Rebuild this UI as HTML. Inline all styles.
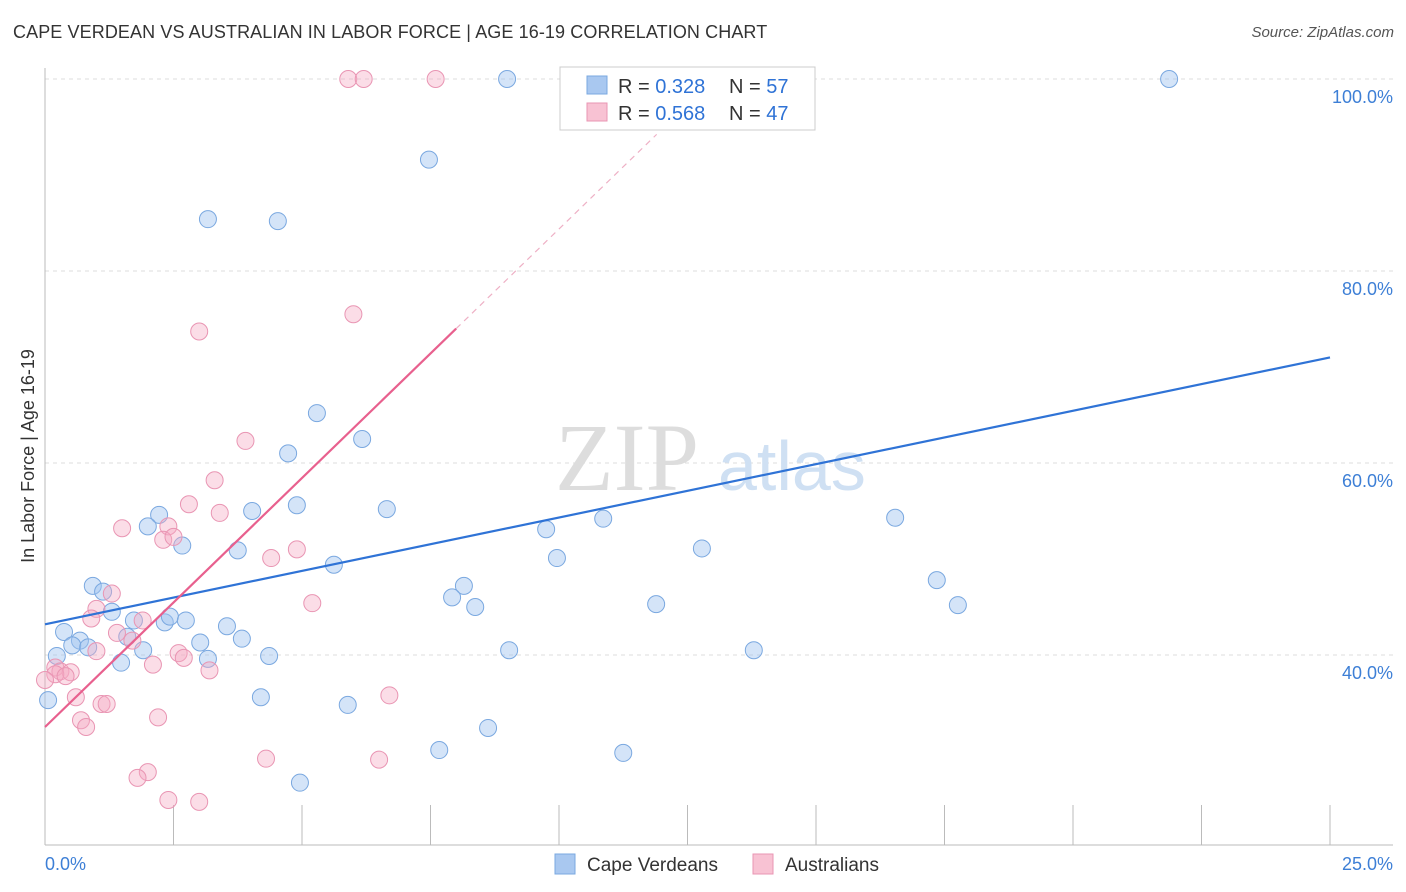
<!DOCTYPE html>
<html><head><meta charset="utf-8">
<style>
body{margin:0;background:#fff;font-family:"Liberation Sans",sans-serif;}
#wrap{position:relative;width:1406px;height:892px;overflow:hidden;}
.title{position:absolute;left:13px;top:22px;font-size:18px;color:#333;letter-spacing:0.1px}
.source{position:absolute;right:12px;top:24px;font-size:15px;color:#555;font-style:italic}
</style></head><body>
<div id="wrap">
<div class="title">CAPE VERDEAN VS AUSTRALIAN IN LABOR FORCE | AGE 16-19 CORRELATION CHART</div>
<div class="source">Source: ZipAtlas.com</div>
<svg id="svg" width="1406" height="892" style="position:absolute;left:0;top:0"></svg>
</div>
<script>
const blueX=[8.99,13.42,21.87,7.47,3.17,4.53,5.29,6.17,4.73,4.90,4.03,6.65,2.22,2.00,2.67,3.75,5.62,9.75,10.86,9.96,12.78,16.54,17.35,17.76,8.15,7.92,8.37,11.89,0.93,1.13,1.30,1.73,2.33,2.43,2.74,0.37,0.68,0.53,0.84,1.60,1.91,3.02,3.54,3.83,4.36,3.17,0.23,1.48,9.03,13.79,0.06,4.20,5.89,8.62,7.67,11.25,4.96];
const blueY=[100,100,100,91.6,85.4,85.2,65.2,62.5,61.0,55.6,55.0,55.2,54.6,53.4,51.4,50.9,49.4,53.1,54.2,50.1,51.1,54.3,47.8,45.2,47.2,46.0,45.0,45.3,47.2,46.6,44.5,43.6,43.4,44.0,43.6,42.4,41.5,41.0,40.8,41.9,40.5,41.3,43.0,41.7,39.9,39.6,39.9,39.2,40.5,40.5,35.3,35.6,34.8,32.4,30.1,29.8,26.7];
const pinkX=[5.9,6.2,7.6,6.0,3.0,3.9,3.3,2.8,3.4,1.5,2.4,2.3,2.5,4.9,4.4,1.3,1.0,0.9,5.2,1.9,1.4,1.7,1.0,2.6,2.7,2.1,3.2,0.2,0.3,0.5,0.2,0.4,0.0,0.6,6.7,1.1,1.2,2.2,0.7,0.8,4.3,6.5,2.0,1.8,2.4,3.0];
const pinkY=[100,100,100,75.5,73.7,62.3,58.2,55.7,54.8,53.2,53.4,52.0,52.3,51.0,50.1,46.4,44.8,43.8,45.4,43.6,42.3,41.5,40.4,40.2,39.7,39.0,38.4,38.7,38.3,38.2,38.0,37.8,37.4,35.6,35.8,34.9,34.9,33.5,33.2,32.5,29.2,29.1,27.8,27.2,24.9,24.7];
const xTicks=["0.0%","25.0%"];
const yTicks=[40,60,80,100];
const blueLine=[43.2,71.0];
const pinkLine=[32.5,74.0,8.0];

const svg=document.getElementById('svg');const NS='http://www.w3.org/2000/svg';
const X=v=>45+v/25*1285, Y=v=>79+(100-v)*9.6;
function el(t,a){const e=document.createElementNS(NS,t);for(const k in a)e.setAttribute(k,a[k]);svg.appendChild(e);return e;}
yTicks.forEach(v=>{const g=el('line',{x1:45,x2:1393,y1:Y(v),y2:Y(v),stroke:'#ddd','stroke-dasharray':'4,4'});

const t=el('text',{x:1393,y:Y(v)+24,'text-anchor':'end','font-size':18,fill:'#3d7fd6'});t.textContent=v.toFixed(1)+'%';
});
const ax=el('line',{x1:45,x2:45,y1:68,y2:845,stroke:'#bbb'});
const bx=el('line',{x1:45,x2:1393,y1:845,y2:845,stroke:'#bbb'});
for(let i=0;i<=10;i++){const l=el('line',{x1:45+i*128.5,x2:45+i*128.5,y1:805,y2:845,stroke:'#bbb'});}
[[xTicks[0],45,'start'],[xTicks[1],1393,'end']].forEach(a=>{const t=el('text',{x:a[1],y:870,'text-anchor':a[2],'font-size':18,fill:'#3d7fd6'});t.textContent=a[0];});
const w=el('text',{x:555,y:490,'font-size':96,fill:'#ddd','font-family':'Liberation Serif'});w.textContent='ZIP';
const w2=el('text',{x:718,y:490,'font-size':70,fill:'#cfe0f3'});w2.textContent='atlas';
blueX.forEach((x,i)=>{const c=el('circle',{cx:X(x),cy:Y(blueY[i]),r:8.5,fill:'rgba(160,195,240,0.45)',stroke:'#7aa8e0','stroke-width':1});
});
pinkX.forEach((x,i)=>{const c=el('circle',{cx:X(x),cy:Y(pinkY[i]),r:8.5,fill:'rgba(245,170,195,0.4)',stroke:'#e995b3','stroke-width':1});
});
const bl=el('line',{x1:X(0),y1:Y(blueLine[0]),x2:X(25),y2:Y(blueLine[1]),stroke:'#2f73d6','stroke-width':2.2});
const slope=(pinkLine[1]-pinkLine[0])/pinkLine[2];
const pl=el('line',{x1:X(0),y1:Y(pinkLine[0]),x2:X(pinkLine[2]),y2:Y(pinkLine[1]),stroke:'#e8608e','stroke-width':2.2});
const pd=el('line',{x1:X(pinkLine[2]),y1:Y(pinkLine[1]),x2:X(11.9),y2:Y(pinkLine[0]+slope*11.9),stroke:'#eeb0c5','stroke-width':1.2,'stroke-dasharray':'6,5'});
const lb=el('rect',{x:560,y:67,width:255,height:63,fill:'#fff',stroke:'#ccc'});
[[0,'#a9c8f0','#7aa8e0','0.328','57'],[1,'#f8c2d3','#e995b3','0.568','47']].forEach(r=>{const y=76+r[0]*27;
const s=el('rect',{x:587,y:y,width:20,height:18,fill:r[1],stroke:r[2]});
const t=el('text',{x:618,y:y+17,'font-size':20,fill:'#333'});t.innerHTML='R = <tspan fill="#2f73d6">'+r[3]+'</tspan>';

const t2=el('text',{x:729,y:y+17,'font-size':20,fill:'#333'});t2.innerHTML='N = <tspan fill="#2f73d6">'+r[4]+'</tspan>';
});
[[555,'#a9c8f0','#7aa8e0','Cape Verdeans'],[753,'#f8c2d3','#e995b3','Australians']].forEach(r=>{
const s=el('rect',{x:r[0],y:854,width:20,height:20,fill:r[1],stroke:r[2]});
const t=el('text',{x:r[0]+32,y:871,'font-size':19,fill:'#333'});t.textContent=r[3];});
const yl=el('text',{x:0,y:0,'font-size':18,fill:'#333','text-anchor':'middle',transform:'translate(34,456) rotate(-90)'});yl.textContent='In Labor Force | Age 16-19';
</script>
</body></html>
